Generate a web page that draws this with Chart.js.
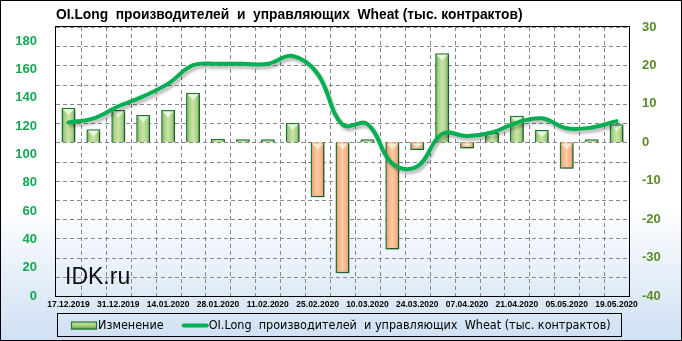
<!DOCTYPE html>
<html><head><meta charset="utf-8">
<script src="https://cdn.jsdelivr.net/npm/chart.js@4.4.1/dist/chart.umd.min.js"></script>
<style>html,body{margin:0;padding:0;background:#fff}canvas{display:block}</style>
</head><body>
<canvas id="c" width="682" height="341"></canvas>
<script>
const categories = ['17.12.2019','24.12.2019','31.12.2019','07.01.2020','14.01.2020','21.01.2020','28.01.2020','04.02.2020','11.02.2020','18.02.2020','25.02.2020','03.03.2020','10.03.2020','17.03.2020','24.03.2020','31.03.2020','07.04.2020','14.04.2020','21.04.2020','28.04.2020','05.05.2020','12.05.2020','19.05.2020'];
const changeValues = [9.0, 3.4, 8.4, 7.1, 8.4, 12.9, 0.9, 0.3, 0.2, 5.1, -14.3, -34.1, 0.4, -27.9, -2.0, 23.2, -1.6, 2.5, 6.9, 3.2, -6.9, 0.6, 4.7];
const oiLongValues = [122.5, 125.5, 134, 141, 150, 163, 164, 164, 164, 169.5, 157, 121, 121.5, 93.5, 91.5, 114.5, 113, 115.5, 122.5, 125.5, 118.5, 119, 123.5];
const leftAxisTicks = [0,20,40,60,80,100,120,140,160,180];
const rightAxisTicks = [-40,-30,-20,-10,0,10,20,30];
const titleText = 'OI.Long  производителей  и  управляющих  Wheat (тыс. контрактов)';
const seriesNames = ['Изменение', 'OI.Long  производителей  и управляющих  Wheat (тыс. контрактов)'];
const watermarkText = 'IDK.ru';

const BAR_PCT = 0.56;
const LINE_GREEN = '#00b050';
const BAR_BORDER = '#237a3b';
const GRID_COLOR = '#888888';

function makeBarGradient(c, x0, x1, pos) {
  const g = c.createLinearGradient(x0, 0, x1, 0);
  if (pos) {
    g.addColorStop(0, '#5f9a3c'); g.addColorStop(0.22, '#a8d182');
    g.addColorStop(0.5, '#c9e5a9'); g.addColorStop(0.78, '#a8d182'); g.addColorStop(1, '#5f9a3c');
  } else {
    g.addColorStop(0, '#d9874f'); g.addColorStop(0.22, '#f6b487');
    g.addColorStop(0.5, '#fccaa2'); g.addColorStop(0.78, '#f6b487'); g.addColorStop(1, '#d9874f');
  }
  return g;
}

function barFill(ctx) {
  const chart = ctx.chart;
  const xs = chart.scales && chart.scales.x;
  const pos = (ctx.raw || 0) >= 0;
  if (!xs || ctx.type !== 'data') return pos ? '#a9d18e' : '#f4b183';
  const cx = xs.getPixelForValue(ctx.dataIndex);
  if (!isFinite(cx)) return pos ? '#a9d18e' : '#f4b183';
  const hw = xs.width / categories.length * BAR_PCT / 2;
  return makeBarGradient(chart.ctx, cx - hw, cx + hw, pos);
}

function dashedLine(c, x0, y0, x1, y1, dash, gap) {
  const len = Math.hypot(x1 - x0, y1 - y0);
  const ux = (x1 - x0) / len, uy = (y1 - y0) / len;
  c.beginPath();
  for (let d = 0; d < len; d += dash + gap) {
    const e = Math.min(d + dash, len);
    c.moveTo(x0 + ux * d, y0 + uy * d);
    c.lineTo(x0 + ux * e, y0 + uy * e);
  }
  c.stroke();
}

const decorPlugin = {
  id: 'decor',
  beforeDraw(chart) {
    const c = chart.ctx, W = chart.width, H = chart.height;
    c.save();
    const g = c.createLinearGradient(0, 0, 0, H);
    g.addColorStop(0, '#ffffff'); g.addColorStop(0.6, '#ffffff'); g.addColorStop(1, '#cfe0f3');
    c.fillStyle = g; c.fillRect(0, 0, W, H);
    c.restore();
  },
  beforeDatasetsDraw(chart) {
    const c = chart.ctx, a = chart.chartArea;
    c.save();
    c.strokeStyle = GRID_COLOR; c.lineWidth = 1;
    const ys = chart.scales.y1;
    for (const t of ys.ticks) {
      const y = Math.round(ys.getPixelForValue(t.value)) + 0.5;
      dashedLine(c, a.left, y, a.right, y, 4, 3);
    }
    const xs = chart.scales.x;
    const step = xs.width / categories.length;
    for (let i = 1; i < categories.length; i++) {
      const x = Math.round(xs.getPixelForValue(i) - step / 2) + 0.5;
      dashedLine(c, x, a.top, x, a.bottom, 4, 3);
    }
    c.strokeStyle = '#000'; c.lineWidth = 1;
    c.strokeRect(Math.round(a.left) - 0.5, Math.round(a.top) - 0.5, Math.round(a.width) + 1, Math.round(a.height) + 1);
    c.font = "23px 'Liberation Sans', Arial, sans-serif";
    c.fillStyle = '#111'; c.textBaseline = 'alphabetic'; c.textAlign = 'left';
    c.fillText(watermarkText, a.left + 9, a.bottom - 12);
    c.restore();
  },
  beforeDatasetDraw(chart, args) {
    const c = chart.ctx;
    c.save();
    if (args.index === 0) {
      c.shadowColor = 'rgba(0,0,0,0.35)'; c.shadowBlur = 4; c.shadowOffsetX = 2; c.shadowOffsetY = 2;
    } else {
      c.shadowColor = 'rgba(0,0,0,0.28)'; c.shadowBlur = 3; c.shadowOffsetX = 2; c.shadowOffsetY = 3;
    }
  },
  afterDatasetDraw(chart, args) {
    const c = chart.ctx;
    c.restore();
    if (args.index === 0) {
      c.save();
      args.meta.data.forEach((el, i) => {
        const p = el.getProps(['x', 'y', 'base', 'width'], true);
        const top = Math.min(p.y, p.base), bot = Math.max(p.y, p.base);
        const h = bot - top;
        if (h < 5) return;
        const l = p.x - p.width / 2 + 1.5, r = p.x + p.width / 2 - 1.5;
        const th = Math.min(p.width * 0.42, h * 0.45);
        c.fillStyle = changeValues[i] >= 0 ? 'rgba(235,248,220,0.95)' : 'rgba(255,232,210,0.95)';
        c.beginPath(); c.moveTo(l, top + 1.5); c.lineTo(r, top + 1.5); c.lineTo(p.x, top + 1.5 + th); c.closePath(); c.fill();
      });
      c.restore();
    }
  },
  afterDraw(chart) {
    const c = chart.ctx, a = chart.chartArea, W = chart.width, H = chart.height;
    c.save();
    c.font = "bold 13.8px 'Liberation Sans', Arial, sans-serif";
    c.fillStyle = '#000'; c.textBaseline = 'middle'; c.textAlign = 'left';
    c.fillText(titleText, a.left, 15);
    c.font = "12.5px 'DejaVu Sans Condensed', 'Liberation Sans Narrow', 'DejaVu Sans', sans-serif";
    const sym = 26, gt = 1, gi = 18;
    const w0 = c.measureText(seriesNames[0]).width, w1 = c.measureText(seriesNames[1]).width;
    const total = sym + gt + w0 + gi + sym + gt + w1;
    let x = Math.round(W / 2 - total / 2);
    const cy = 325.5;
    c.strokeStyle = '#000'; c.lineWidth = 1;
    c.strokeRect(x - 14 + 0.5, 313.5, Math.round(total + 24), 23);
    const g = c.createLinearGradient(0, cy - 4, 0, cy + 4);
    g.addColorStop(0, '#c9e5a9'); g.addColorStop(0.5, '#a8d182'); g.addColorStop(1, '#5f9a3c');
    c.fillStyle = g; c.fillRect(x, cy - 4, sym, 8);
    c.strokeStyle = BAR_BORDER; c.lineWidth = 1.2; c.strokeRect(x + 0.5, cy - 3.5, sym - 1, 7);
    x += sym + gt;
    c.fillStyle = '#000'; c.textBaseline = 'middle';
    c.fillText(seriesNames[0], x, cy);
    x += w0 + gi;
    c.strokeStyle = LINE_GREEN; c.lineWidth = 4; c.lineCap = 'round';
    c.beginPath(); c.moveTo(x + 2, cy); c.lineTo(x + sym - 1, cy); c.stroke();
    x += sym + gt;
    c.fillText(seriesNames[1], x, cy);
    c.strokeStyle = '#000'; c.lineWidth = 1;
    c.strokeRect(0.5, 0.5, W - 1, H - 1);
    c.restore();
  }
};

new Chart(document.getElementById('c'), {
  data: {
    labels: categories,
    datasets: [
      {
        type: 'bar', label: seriesNames[0], data: changeValues, yAxisID: 'y1', order: 2,
        backgroundColor: barFill, borderColor: BAR_BORDER, borderWidth: 1.5, minBarLength: 3,
        barPercentage: BAR_PCT, categoryPercentage: 1
      },
      {
        type: 'line', label: seriesNames[1], data: oiLongValues, yAxisID: 'y', order: 1,
        borderColor: LINE_GREEN, borderWidth: 4, tension: 0.4, pointRadius: 0, fill: false,
        borderCapStyle: 'round'
      }
    ]
  },
  options: {
    responsive: false, animation: false, devicePixelRatio: 1,
    layout: { padding: { top: 27, bottom: 0, left: 0, right: 0 } },
    plugins: { legend: { display: false }, tooltip: { enabled: false }, title: { display: false } },
    scales: {
      x: {
        offset: true,
        grid: { display: false, offset: true, drawTicks: false },
        border: { display: false },
        ticks: {
          autoSkip: false, maxRotation: 0, minRotation: 0, padding: 4, color: '#000',
          font: { family: "'Liberation Sans', Arial, sans-serif", weight: 'bold', size: 8.5 },
          callback: (v, i) => (i % 2 === 0 ? categories[i] : '')
        },
        afterFit: s => { s.height = 45; }
      },
      y: {
        position: 'left', min: 0, max: 190,
        grid: { display: false }, border: { display: false },
        ticks: {
          stepSize: 20, includeBounds: false, autoSkip: false, padding: 11, color: '#14a853',
          font: { family: "'Liberation Sans', Arial, sans-serif", weight: 'bold', size: 13 },
          callback: v => (leftAxisTicks.includes(v) ? v : '')
        },
        afterFit: s => { s.width = 56; }
      },
      y1: {
        position: 'right', min: -40, max: 30,
        grid: { display: false, drawTicks: false },
        border: { display: false },
        ticks: {
          stepSize: 5, autoSkip: false, padding: 13, color: '#5a8a2a',
          font: { family: "'Liberation Sans', Arial, sans-serif", weight: 'bold', size: 13 },
          callback: v => (rightAxisTicks.includes(v) ? v : '')
        },
        afterFit: s => { s.width = 53; }
      }
    }
  },
  plugins: [decorPlugin]
});
</script>
</body></html>
